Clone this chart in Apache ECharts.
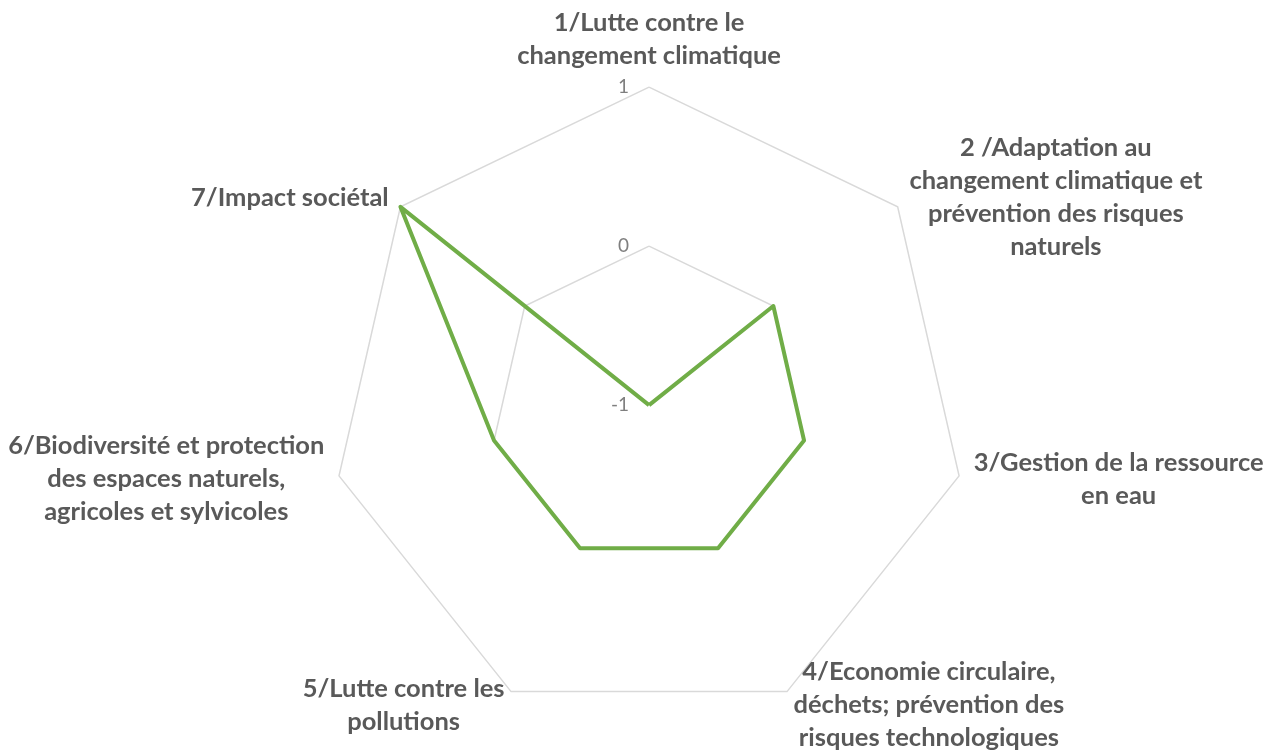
<!DOCTYPE html>
<html>
<head>
<meta charset="utf-8">
<title>Radar</title>
<script src="https://cdn.jsdelivr.net/npm/echarts@6/dist/echarts.min.js"></script>
<style>
  html, body { margin: 0; padding: 0; background: #fff; }
  #radar { width: 1286px; height: 753px; }
</style>
</head>
<body>
<div id="radar"></div>
<script>
// axes, clockwise from the top
var categories = [
    '1/Lutte contre le\nchangement climatique',
    '2 /Adaptation au\nchangement climatique et\nprévention des risques\nnaturels',
    '3/Gestion de la ressource\nen eau',
    '4/Economie circulaire,\ndéchets; prévention des\nrisques technologiques',
    '5/Lutte contre les\npollutions',
    '6/Biodiversité et protection\ndes espaces naturels,\nagricoles et sylvicoles',
    '7/Impact sociétal'
];
var values = [-1, 0, 0, 0, 0, 0, 1];
var tickLabels = ['-1', '0', '1'];

// echarts lays indicators counter-clockwise, so keep the first one and reverse the rest
var order = [0];
for (var i = categories.length - 1; i > 0; i--) order.push(i);

var chart = echarts.init(document.getElementById('radar'));

var indicator = order.map(function (k, i) {
    var ind = { name: categories[k], min: -1, max: 1 };
    if (i === 0) {
        // graduations only on the first axis
        ind.axisLabel = {
            show: true,
            color: '#7f7f7f',
            fontSize: 19,
            fontFamily: 'Lato',
            margin: 20,
            formatter: function (v) {
                var t = Math.round(v) + 1;
                return tickLabels[t] !== undefined ? tickLabels[t] : '';
            }
        };
    }
    return ind;
});

var fontSz = 25.5;

var option = {
    animation: false,
    radar: {
        center: ['50.47%', '53.8%'],
        radius: 318,
        startAngle: 90,
        splitNumber: 2,
        shape: 'polygon',
        indicator: indicator,
        axisName: {
            color: '#595959',
            fontFamily: 'Lato',
            fontWeight: 'bold',
            fontSize: fontSz,
            lineHeight: 33,
            formatter: function (name) {
                return name.split('\n').map(function (s) {
                    return '{c|' + s + '}';
                }).join('\n');
            },
            rich: {
                c: {
                    align: 'center',
                    color: '#595959',
                    fontFamily: 'Lato',
                    fontWeight: 'bold',
                    fontSize: fontSz,
                    lineHeight: 33
                }
            }
        },
        nameGap: 15,
        axisLine: { show: false },
        axisTick: { show: false },
        axisLabel: { show: false },
        splitArea: { show: false },
        splitLine: { lineStyle: { color: '#d9d9d9', width: 1.5 } }
    },
    series: [{
        type: 'radar',
        symbol: 'none',
        lineStyle: { color: '#70AD47', width: 4 },
        itemStyle: { color: '#70AD47' },
        data: [{ value: order.map(function (k) { return values[k]; }), name: 'Série1' }]
    }]
};
chart.setOption(option);
</script>
</body>
</html>
